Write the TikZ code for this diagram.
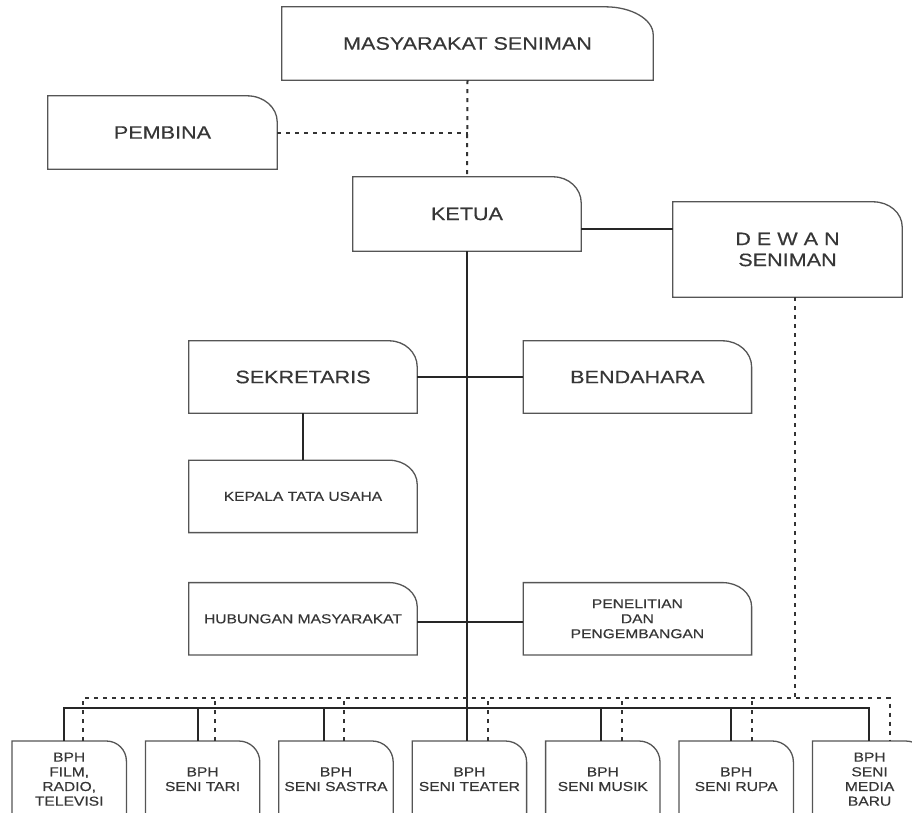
\documentclass[tikz,border=0pt]{standalone}
\usepackage{fontspec}
\setmainfont{Liberation Sans}[FakeStretch=1.2, FakeBold=0.4]
\usetikzlibrary{positioning}
\definecolor{inkgray}{HTML}{363636}
\definecolor{linegray}{HTML}{555555}

\begin{document}
\begin{tikzpicture}[x=1pt,y=1pt]
	\tikzstyle{orgbox} = [rectangle, inner sep=0pt, align=center, text=inkgray, minimum width=228pt, minimum height=73pt, font=\fontsize{18}{21}\selectfont]
	\tikzstyle{smallbox} = [orgbox, minimum height=72pt, font=\fontsize{13}{15}\selectfont]
	\tikzstyle{bphbox} = [orgbox, minimum width=114pt, minimum height=76pt, font=\fontsize{13}{14.7}\selectfont]
	\tikzstyle{outline} = [draw=linegray, line width=1.3pt]
	\tikzstyle{solidline} = [draw=black!85, line width=1.8pt]
	\tikzstyle{dotline} = [draw=black!80, line width=2pt, dash pattern=on 4pt off 5pt]
	\useasboundingbox (0,0) rectangle (912,-812);
	
	\node[orgbox, minimum width=371pt] (MAS) at (467.5,-43.5) {MASYARAKAT SENIMAN};
	\node[orgbox, minimum width=229pt] (PEM) at (162.5,-132.5) {PEMBINA};
	\node[orgbox, minimum height=74pt] (KET) at (467,-214) {KETUA};
	\node[orgbox, minimum width=229pt, minimum height=95pt] (DEW) at (787.5,-249.5) {D E W A N\\SENIMAN};
	
	\node[orgbox, minimum height=72pt] (SEK) at (303,-377) {SEKRETARIS};
	\node[orgbox, minimum height=72pt, right=106pt of SEK] (BEN) {BENDAHARA};
	\node[smallbox, below=47pt of SEK] (KTU) {KEPALA TATA USAHA};
	\node[smallbox, below=50pt of KTU] (HUM) {HUBUNGAN MASYARAKAT};
	\node[smallbox, right=106pt of HUM] (PEN) {PENELITIAN\\DAN\\PENGEMBANGAN};
	
	\node[bphbox, anchor=north west] (B1) at (12,-741) {BPH\\FILM,\\RADIO,\\TELEVISI};
	\node[bphbox, right=19pt of B1] (B2) {BPH\\SENI TARI};
	\node[bphbox, right=19pt of B2] (B3) {BPH\\SENI SASTRA};
	\node[bphbox, right=19pt of B3] (B4) {BPH\\SENI TEATER};
	\node[bphbox, right=19pt of B4] (B5) {BPH\\SENI MUSIK};
	\node[bphbox, right=19pt of B5] (B6) {BPH\\SENI RUPA};
	\node[bphbox, right=19pt of B6] (B7) {BPH\\SENI\\MEDIA\\BARU};
	
	% box outlines, only the top right corner is rounded
	\foreach \n/\rx/\ry in {MAS/48/28, PEM/30/26, KET/28/26, DEW/29/25, SEK/28/26, BEN/29/26, KTU/28/24, HUM/28/24, PEN/29/24, B1/20/20, B2/21/21, B3/21/21, B4/21/21, B5/21/21, B6/21/21, B7/21/21}
		\draw[outline] (\n.south west) -- (\n.north west) -- ([xshift=-\rx pt]\n.north east) arc[start angle=90, end angle=0, x radius=\rx pt, y radius=\ry pt] -- (\n.south east) -- cycle;
	
	\coordinate (solbus) at (0,-708);
	\coordinate (dotbus) at (0,-698);
	
	\draw[dotline] (MAS.south) -- (KET.north);
	\draw[dotline] (PEM.east) -- (PEM.east -| MAS.south);
	\draw[solidline] ([yshift=-15pt]KET.east) -- ([yshift=-15pt]KET.east -| DEW.west);
	\draw[solidline] (KET.south) -- (KET.south |- B4.north);
	\draw[solidline] (SEK.east) -- (BEN.west);
	\draw[solidline] (SEK.south) -- (KTU.north);
	\draw[solidline] ([yshift=-3pt]HUM.east) -- ([yshift=-3pt]PEN.west);
	
	% bus to the BPH boxes
	\draw[solidline] ([xshift=-5pt]B1.north) |- ([xshift=-1pt]B7.north |- solbus) -- ([xshift=-1pt]B7.north);
	\foreach \b/\s in {B2/-5, B3/-12, B5/-2, B6/-5}
		\draw[solidline] ([xshift=\s pt]\b.north) -- ([xshift=\s pt]\b.north |- solbus);
	
	\draw[dotline] ([xshift=7pt]DEW.south) -- ([xshift=7pt]DEW.south |- dotbus);
	\draw[dotline] ([xshift=14pt]B1.north) |- ([xshift=20pt]B7.north |- dotbus) -- ([xshift=20pt]B7.north);
	\foreach \b/\d in {B2/12, B3/8, B4/19, B5/19, B6/16}
		\draw[dotline] ([xshift=\d pt]\b.north) -- ([xshift=\d pt]\b.north |- dotbus);
	
\end{tikzpicture}
\end{document}
